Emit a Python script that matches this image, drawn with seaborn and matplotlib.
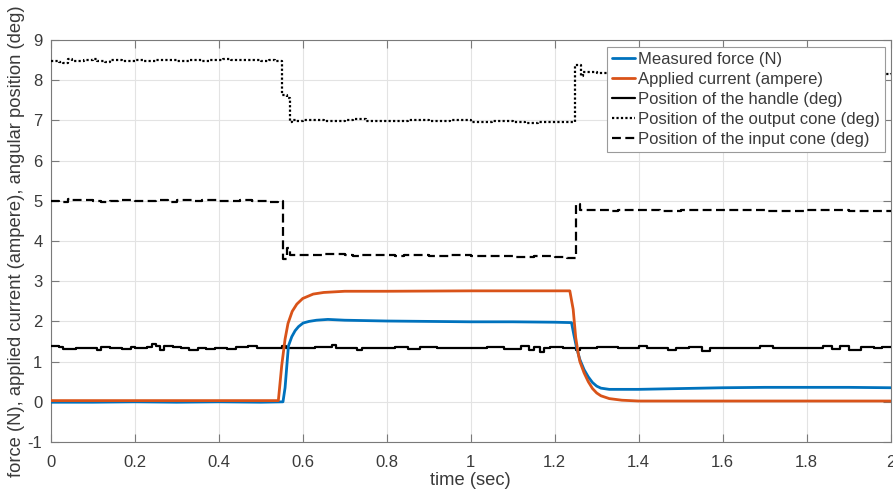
import matplotlib
matplotlib.use("Agg")
import matplotlib.pyplot as plt
import seaborn as sns

# ---------------- data ----------------
force_t = [0.0, 0.1, 0.2, 0.3, 0.4, 0.5, 0.553, 0.558, 0.566, 0.574, 0.582, 0.59,
           0.601, 0.615, 0.633, 0.66, 0.7, 0.8, 0.9, 1.0, 1.1, 1.2, 1.24, 1.246,
           1.252, 1.26, 1.27, 1.28, 1.29, 1.3, 1.31, 1.33, 1.4, 1.5, 1.6, 1.7,
           1.8, 1.9, 2.0]
force_v = [-0.01, -0.01, 0.0, -0.01, 0.0, -0.01, 0.0, 0.35, 1.39, 1.62, 1.77, 1.87,
           1.96, 2.0, 2.03, 2.05, 2.03, 2.01, 2.0, 1.99, 1.99, 1.98, 1.97, 1.65,
           1.35, 1.05, 0.8, 0.62, 0.48, 0.39, 0.34, 0.31, 0.31, 0.33, 0.35, 0.36,
           0.36, 0.36, 0.35]

current_t = [0.0, 0.2, 0.4, 0.542, 0.55, 0.558, 0.565, 0.575, 0.586, 0.6, 0.625,
             0.65, 0.7, 0.8, 1.0, 1.2, 1.236, 1.244, 1.25, 1.256, 1.26, 1.27,
             1.28, 1.29, 1.3, 1.31, 1.33, 1.36, 1.4, 1.6, 1.8, 2.0]
current_v = [0.03, 0.03, 0.03, 0.03, 0.9, 1.56, 1.95, 2.25, 2.43, 2.57, 2.68,
             2.72, 2.75, 2.75, 2.76, 2.76, 2.76, 2.3, 1.6, 1.2, 1.0, 0.72,
             0.5, 0.33, 0.22, 0.15, 0.08, 0.04, 0.02, 0.02, 0.02, 0.02]

handle_t = [0.0, 0.02, 0.03, 0.06, 0.1, 0.11, 0.12, 0.14, 0.17, 0.19, 0.2, 0.23,
            0.24, 0.25, 0.26, 0.27, 0.29, 0.31, 0.33, 0.35, 0.37, 0.39, 0.42,
            0.44, 0.47, 0.49, 0.51, 0.53, 0.55, 0.56, 0.6, 0.63, 0.67, 0.68,
            0.7, 0.73, 0.74, 0.78, 0.82, 0.85, 0.88, 0.92, 0.96, 1.0, 1.04,
            1.08, 1.12, 1.14, 1.15, 1.165, 1.175, 1.19, 1.22, 1.25, 1.26, 1.3,
            1.35, 1.4, 1.42, 1.47, 1.49, 1.52, 1.55, 1.57, 1.62, 1.66, 1.69,
            1.72, 1.76, 1.8, 1.84, 1.86, 1.88, 1.9, 1.93, 1.96, 1.98, 2.0]
handle_v = [1.38, 1.36, 1.32, 1.34, 1.33, 1.29, 1.36, 1.34, 1.32, 1.37, 1.33, 1.36,
            1.45, 1.38, 1.29, 1.40, 1.36, 1.33, 1.30, 1.34, 1.31, 1.34, 1.31,
            1.36, 1.39, 1.35, 1.34, 1.35, 1.40, 1.33, 1.34, 1.36, 1.42, 1.35,
            1.34, 1.28, 1.35, 1.33, 1.36, 1.32, 1.37, 1.34, 1.33, 1.35, 1.36,
            1.32, 1.38, 1.30, 1.36, 1.25, 1.35, 1.36, 1.34, 1.30, 1.35, 1.36,
            1.33, 1.38, 1.34, 1.29, 1.34, 1.36, 1.27, 1.34, 1.35, 1.33, 1.40,
            1.35, 1.34, 1.33, 1.40, 1.32, 1.38, 1.30, 1.36, 1.33, 1.37, 1.36]

output_t = [0.0, 0.02, 0.03, 0.04, 0.05, 0.08, 0.10, 0.11, 0.13, 0.14, 0.17,
            0.2, 0.22, 0.25, 0.3, 0.33, 0.36, 0.38, 0.41, 0.43, 0.47, 0.5,
            0.52, 0.535, 0.55, 0.563, 0.569, 0.575, 0.585, 0.6, 0.65, 0.7,
            0.72, 0.75, 0.8, 0.85, 0.9, 0.95, 1.0, 1.05, 1.1, 1.13, 1.16, 1.2,
            1.248, 1.262, 1.268, 1.3, 1.35, 1.5, 1.7, 1.9, 1.98, 1.99, 2.0]
output_v = [8.48, 8.46, 8.43, 8.52, 8.47, 8.49, 8.52, 8.47, 8.44, 8.49, 8.48,
            8.51, 8.47, 8.49, 8.48, 8.50, 8.47, 8.50, 8.52, 8.49, 8.51, 8.47,
            8.50, 8.47, 7.62, 7.55, 6.95, 7.02, 6.98, 7.0, 6.98, 7.01,
            7.03, 6.99, 6.98, 7.0, 6.98, 7.01, 6.97, 6.99, 6.95, 6.93, 6.97, 6.95,
            8.38, 8.1, 8.2, 8.18, 8.2, 8.18, 8.2, 8.17, 8.2, 8.15, 8.18]

input_t = [0.0, 0.02, 0.04, 0.05, 0.1, 0.12, 0.14, 0.16, 0.2, 0.25, 0.28, 0.3,
           0.34, 0.36, 0.4, 0.45, 0.48, 0.52, 0.54, 0.553, 0.562, 0.57, 0.6,
           0.65, 0.7, 0.72, 0.74, 0.8, 0.82, 0.84, 0.9, 0.95, 1.0, 1.1, 1.15,
           1.2, 1.23, 1.25, 1.26, 1.3, 1.33, 1.35, 1.45, 1.5, 1.6, 1.7, 1.8,
           1.9, 2.0]
input_v = [5.0, 4.98, 5.04, 5.01, 4.99, 4.97, 5.0, 5.02, 5.0, 5.02, 4.98, 5.01,
           4.99, 5.02, 5.0, 5.02, 5.0, 4.97, 5.0, 3.55, 3.83, 3.66, 3.66,
           3.68, 3.65, 3.63, 3.66, 3.64, 3.62, 3.66, 3.63, 3.64, 3.62, 3.6, 3.63,
           3.6, 3.57, 4.93, 4.78, 4.76, 4.74, 4.77, 4.75, 4.77, 4.76, 4.75, 4.77,
           4.74, 4.74]

labels = ["Measured force (N)", "Applied current (ampere)",
          "Position of the handle (deg)", "Position of the output cone (deg)",
          "Position of the input cone (deg)"]

x_ticks = [0, 0.2, 0.4, 0.6, 0.8, 1.0, 1.2, 1.4, 1.6, 1.8, 2.0]
x_ticklabels = ["0", "0.2", "0.4", "0.6", "0.8", "1", "1.2", "1.4", "1.6", "1.8", "2"]
y_ticks = [-1, 0, 1, 2, 3, 4, 5, 6, 7, 8, 9]
y_ticklabels = ["-1", "0", "1", "2", "3", "4", "5", "6", "7", "8", "9"]

# ---------------- style ----------------
sns.set_theme(style="whitegrid")
plt.rcParams["font.family"] = ["Liberation Sans", "DejaVu Sans"]
plt.rcParams["font.size"] = 12
TXT = "#3a3a3a"

fig = plt.figure(figsize=(8.93, 4.93), dpi=100)
ax = fig.add_axes([0.0568, 0.1034, 0.9406, 0.8155])

sns.lineplot(x=force_t, y=force_v, ax=ax, color="#0072BD", lw=2.0,
             estimator=None, label=labels[0], zorder=4)
sns.lineplot(x=current_t, y=current_v, ax=ax, color="#D95319", lw=2.0,
             estimator=None, label=labels[1], zorder=5)
sns.lineplot(x=handle_t, y=handle_v, ax=ax, color="black", lw=1.6,
             estimator=None, drawstyle="steps-post", label=labels[2], zorder=3)
sns.lineplot(x=output_t, y=output_v, ax=ax, color="black", lw=1.6,
             estimator=None, drawstyle="steps-post", linestyle=(0, (1, 1)),
             label=labels[3], zorder=3)
sns.lineplot(x=input_t, y=input_v, ax=ax, color="black", lw=1.6,
             estimator=None, drawstyle="steps-post", linestyle=(0, (4, 2)),
             label=labels[4], zorder=3)

ax.set_xlim(0, 2)
ax.set_ylim(-1, 9)
ax.set_xticks(x_ticks)
ax.set_xticklabels(x_ticklabels)
ax.set_yticks(y_ticks)
ax.set_yticklabels(y_ticklabels)
ax.grid(True, color="#e3e3e3", lw=0.8)
ax.set_axisbelow(True)
for s in ax.spines.values():
    s.set_visible(True)
    s.set_color("#7a7a7a")
    s.set_linewidth(0.8)
ax.tick_params(axis="both", which="both", direction="in", length=5.5, width=0.8,
               colors="#7a7a7a", labelcolor=TXT, labelsize=12,
               top=True, right=True, bottom=True, left=True)
ax.tick_params(axis="x", pad=9)
ax.tick_params(axis="y", pad=6)

ax.set_xlabel("time (sec)", fontsize=13.2, color=TXT, labelpad=2)
ax.set_ylabel("force (N), applied current (ampere), angular position (deg)",
              fontsize=13.2, color=TXT, labelpad=2)

leg = ax.legend(loc="upper right", bbox_to_anchor=(0.993, 0.982), borderaxespad=0,
                fancybox=False, framealpha=1, edgecolor="#9a9a9a", fontsize=12,
                handlelength=1.4, handletextpad=0.15, labelspacing=0.3,
                borderpad=0.3)
leg.get_frame().set_linewidth(0.8)
for t in leg.get_texts():
    t.set_color(TXT)

fig.savefig("out.png", dpi=100)
